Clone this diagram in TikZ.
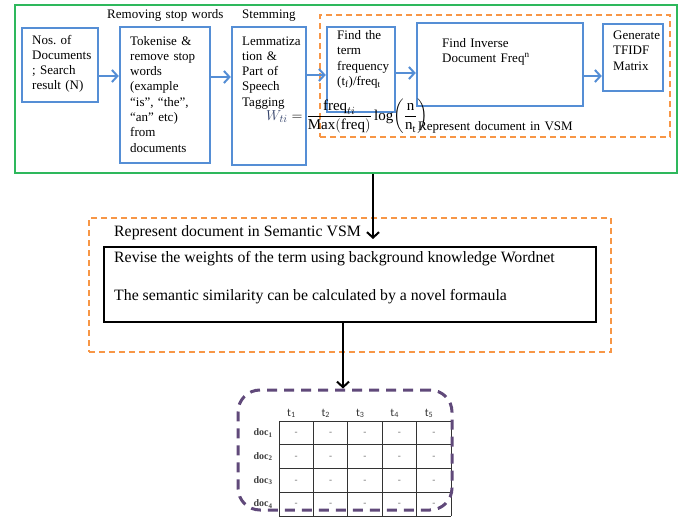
\documentclass[tikz,border=0pt]{standalone}
\usepackage{fontspec}
\usepackage{amsmath}
\setmainfont{Liberation Serif}
\newfontfamily\calib{Carlito}
\usetikzlibrary{arrows.meta}
\definecolor{boxblue}{RGB}{85,142,213}
\definecolor{frgreen}{RGB}{46,184,92}
\definecolor{dorange}{RGB}{247,150,70}
\definecolor{dpurple}{RGB}{96,73,122}
\definecolor{wblue}{RGB}{50,65,105}
\definecolor{dashgray}{RGB}{110,110,110}
\frenchspacing
\begin{document}
\begin{tikzpicture}[x=1pt,y=-1pt,
  bluebox/.style={draw=boxblue, line width=2.4pt, inner sep=0pt},
  txt/.style={font=\fontsize{13}{15.3}\selectfont, inner sep=0pt, anchor=base west, align=left, text width=#1},
  txt/.default=100pt,
  bigtxt/.style={font=\fontsize{15.8}{19}\selectfont, inner sep=0pt, anchor=base west},
  barrow/.style={draw=boxblue, line width=2pt, -{Straight Barb[length=5.5pt,width=12pt,line width=2pt]}},
  karrow/.style={draw=black, line width=2pt, -{Straight Barb[length=5.5pt,width=12pt,line width=2pt]}},
  odash/.style={draw=dorange, line width=1.6pt, dash pattern=on 6pt off 4pt, inner sep=0pt},
  tabline/.style={draw=black!80, line width=0.9pt},
  cell/.style={text=dashgray, font=\calib\fontsize{10}{10}\selectfont, inner sep=0pt, anchor=base},
  tlab/.style={font=\calib\fontsize{11.5}{12}\selectfont, inner sep=0pt, anchor=base west, text=black!80},
  dlab/.style={font=\bfseries\fontsize{10}{10}\selectfont, inner sep=0pt, text=black!75}
]
\useasboundingbox (0,0) rectangle (681,517);

% frames
\node[draw=frgreen, line width=2pt, inner sep=0pt, minimum width=662pt, minimum height=168pt] (green) at (346,89) {};
\node[odash, minimum width=350pt, minimum height=122pt] (vsm) at (495,76) {};

% top boxes
\node[bluebox, minimum width=76pt, minimum height=74pt] (b1) at (60,65) {};
\node[bluebox, minimum width=90pt, minimum height=136pt] (b2) at (165,95) {};
\node[bluebox, minimum width=74pt, minimum height=138pt] (b3) at (269,96) {};
\node[bluebox, minimum width=68pt, minimum height=85pt] (b4) at (361,69.5) {};
\node[bluebox, minimum width=166pt, minimum height=83pt] (b5) at (500,64.5) {};
\node[bluebox, minimum width=60pt, minimum height=67pt] (b6) at (633,57.5) {};

% box texts
\node[txt=70pt] (t1) at (32,44) {Nos. of\\Documents\\; Search\\result (N)};
\node[txt=80pt] (t2) at (130,45) {Tokenise \&\\remove stop\\words\\(example\\“is”, “the”,\\“an” etc)\\from\\documents};
\node[txt=70pt] (t3) at (242,45) {Lemmatiza\\tion \&\\Part of\\Speech\\Tagging};
\node[txt=60pt] (t4) at (337,39.5) {Find the\\term\\frequency\\(t\textsubscript{f})/freq\textsubscript{t}};
\node[txt=140pt] (t5) at (442,47) {Find Inverse\\Document Freq\textsuperscript{n}};
\node[txt=60pt] (t6) at (613,39.5) {Generate\\TFIDF\\Matrix};

% labels
\node[txt=130pt] (lrm) at (107,18) {Removing stop words};
\node[txt=70pt] (lst) at (242,18) {Stemming};
\node[txt=160pt] (lvsm) at (418,130) {Represent document in VSM};

% formula
\node[inner sep=0pt, anchor=base west, font=\fontsize{15}{17}\selectfont] (wti) at (266,120)
  {$\color{wblue}W_{ti}\color{black}=\dfrac{\mathrm{freq}_{ti}}{\mathrm{Max(freq)}}\log\!\left(\dfrac{\mathrm{n}}{\mathrm{n}_{\mathrm{t}}}\right)$};

% arrows between top boxes
\coordinate (a1) at ([yshift=-11pt]b1.east);
\coordinate (a2) at ([yshift=18pt]b2.east);
\coordinate (a3) at ([yshift=21pt]b3.east);
\coordinate (a4) at ([yshift=-3.5pt]b4.east);
\coordinate (a5) at ([yshift=-11.5pt]b5.east);
\draw[barrow] (a1) -- (a1 -| b2.west);
\draw[barrow] (a2) -- (a2 -| b3.west);
\draw[barrow] (a3) -- (a3 -| b4.west);
\draw[barrow] (a4) -- (a4 -| b5.west);
\draw[barrow] (a5) -- (a5 -| b6.west);

% semantic VSM part
\node[odash, minimum width=522pt, minimum height=134pt] (sem) at (350,285) {};
\node[draw=black, line width=2.4pt, inner sep=0pt, minimum width=492pt, minimum height=75pt] (rev) at (350,284.5) {};
\node[bigtxt] (lsem) at (114,236) {Represent document in Semantic VSM};
\node[bigtxt] (r1) at (114,262) {Revise the weights of the term using background knowledge Wordnet};
\node[bigtxt] (r2) at (114,300) {The semantic similarity can be calculated by a novel formaula};

\coordinate (v1) at ([xshift=27pt]green.south);
\coordinate (v1e) at (373,239);
\draw[karrow] (v1) -- (v1e);

% table
\foreach \i in {0,...,5} \draw[tabline] ({279+\i*34.4},421) -- ({279+\i*34.4},516);
\foreach \j in {0,...,4} \draw[tabline] (279,{421+\j*23.75}) -- (451,{421+\j*23.75});
\foreach \i in {1,...,5} {
  \node[tlab] (th\i) at ({279+(\i-1)*34.4+8},416) {t\textsubscript{\i}};
  \foreach \j in {1,...,4}
    \node[cell] (c\i\j) at ({279+(\i-1)*34.4+17.2},{421+(\j-1)*23.75+14.5}) {-};
}
\foreach \j in {1,...,4}
  \node[dlab] (d\j) at (263,{421+(\j-1)*23.75+11.9}) {doc\textsubscript{\j}};

\node[draw=dpurple, line width=3pt, dash pattern=on 10pt off 7pt, rounded corners=22pt, inner sep=0pt,
  minimum width=214pt, minimum height=120pt] (mat) at (345,450) {};

\coordinate (v2) at ([xshift=-7pt]rev.south);
\draw[karrow] (v2) -- (v2 |- mat.north);
\end{tikzpicture}
\end{document}
